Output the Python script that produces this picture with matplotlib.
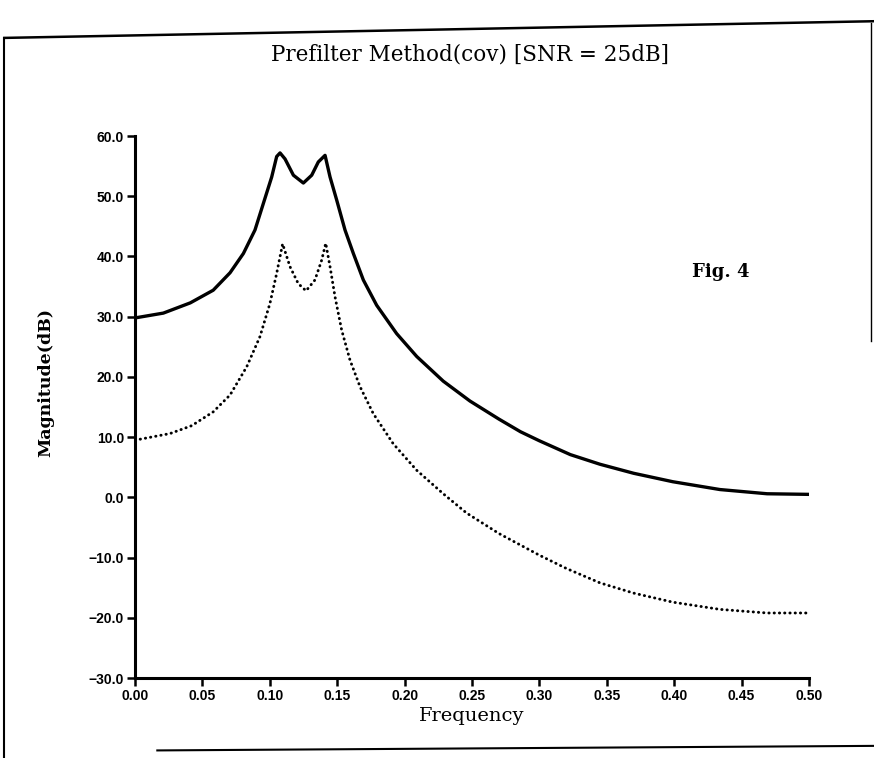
import matplotlib.pyplot as plt
import numpy as np

# values
freq_solid = [0.000, 0.021, 0.041, 0.058, 0.0705, 0.0804, 0.089, 0.0952, 0.1014, 0.1051,
              0.1076, 0.1113, 0.1175, 0.1249, 0.1311, 0.136, 0.141, 0.1447, 0.1496, 0.1558,
              0.162, 0.1694, 0.1793, 0.1941, 0.209, 0.2287, 0.2485, 0.27, 0.286, 0.30,
              0.323, 0.345, 0.370, 0.399, 0.434, 0.469, 0.500]
mag_solid = [29.8, 30.6, 32.3, 34.4, 37.3, 40.5, 44.4, 48.8, 53.2, 56.6,
             57.2, 56.2, 53.5, 52.2, 53.5, 55.7, 56.8, 53.2, 49.4, 44.4,
             40.5, 36.1, 31.9, 27.2, 23.4, 19.3, 16.0, 13.0, 10.9, 9.4,
             7.1, 5.5, 4.0, 2.6, 1.3, 0.6, 0.5]

freq_dot = [0.000, 0.026, 0.042, 0.058, 0.0705, 0.0829, 0.0927, 0.1001, 0.1051, 0.1095,
            0.115, 0.1211, 0.1269, 0.1335, 0.1385, 0.1415, 0.1447, 0.1484, 0.1533, 0.1595,
            0.1669, 0.1768, 0.1916, 0.209, 0.2287, 0.246, 0.27, 0.30, 0.32, 0.345,
            0.370, 0.399, 0.434, 0.469, 0.500]
mag_dot = [9.5, 10.6, 11.9, 14.2, 17.0, 21.7, 26.7, 32.2, 37.2, 42.1,
           38.3, 35.5, 34.3, 36.1, 39.4, 42.2, 38.3, 33.3, 27.8, 22.8,
           18.4, 13.9, 8.9, 4.5, 0.6, -2.6, -6.0, -9.6, -11.8, -14.2,
           -15.9, -17.4, -18.6, -19.2, -19.2]

xticks = [0.00, 0.05, 0.10, 0.15, 0.20, 0.25, 0.30, 0.35, 0.40, 0.45, 0.50]
yticks = [-30, -20, -10, 0, 10, 20, 30, 40, 50, 60]

fig = plt.figure(figsize=(8.74, 7.58), dpi=100)
ax = fig.add_axes([0.1545, 0.1055, 0.771, 0.715])

ax.plot(freq_solid, mag_solid, color='k', lw=2.4, solid_joinstyle='round',
        solid_capstyle='round')
ax.plot(freq_dot, mag_dot, color='k', lw=2.1, linestyle=(0, (0.1, 1.7)),
        dash_capstyle='round')

ax.set_xlim(0, 0.5)
ax.set_ylim(-30, 60)
ax.spines['top'].set_visible(False)
ax.spines['right'].set_visible(False)
ax.spines['left'].set_linewidth(2.2)
ax.spines['bottom'].set_linewidth(2.2)
ax.set_xticks(xticks)
ax.set_xticklabels(['%.2f' % v for v in xticks])
ax.set_yticks(yticks)
ax.set_yticklabels([('%.1f' % v).replace('-', '\u2212') for v in yticks])
ax.tick_params(width=1.8, length=6, labelsize=10, pad=2)
for lab in ax.get_xticklabels() + ax.get_yticklabels():
    lab.set_fontweight('bold')
    lab.set_family('Liberation Sans')

ax.set_xlabel('Frequency', family='DejaVu Serif', fontsize=14, labelpad=3)
ax.set_ylabel('Magnitude(dB)', family='DejaVu Serif', fontsize=12.5,
              fontweight='bold')
ax.yaxis.set_label_coords(-0.12, 0.546)

fig.text(0.538, 0.928, 'Prefilter Method(cov) [SNR = 25dB]', family='DejaVu Serif',
         fontsize=15.5, ha='center', va='center')
fig.text(0.825, 0.641, 'Fig. 4', family='DejaVu Serif', fontsize=13,
         fontweight='bold', ha='center', va='center')

# page frame of the scan
fig.add_artist(plt.Line2D([0.005, 0.005], [0.0, 0.95], color='k', lw=1.5))
fig.add_artist(plt.Line2D([0.005, 1.0], [0.95, 0.972], color='k', lw=1.8))
fig.add_artist(plt.Line2D([0.996, 0.996], [0.55, 0.97], color='k', lw=1.0))
fig.add_artist(plt.Line2D([0.18, 1.0], [0.01, 0.016], color='k', lw=1.5))

fig.savefig('out.png', dpi=100)
